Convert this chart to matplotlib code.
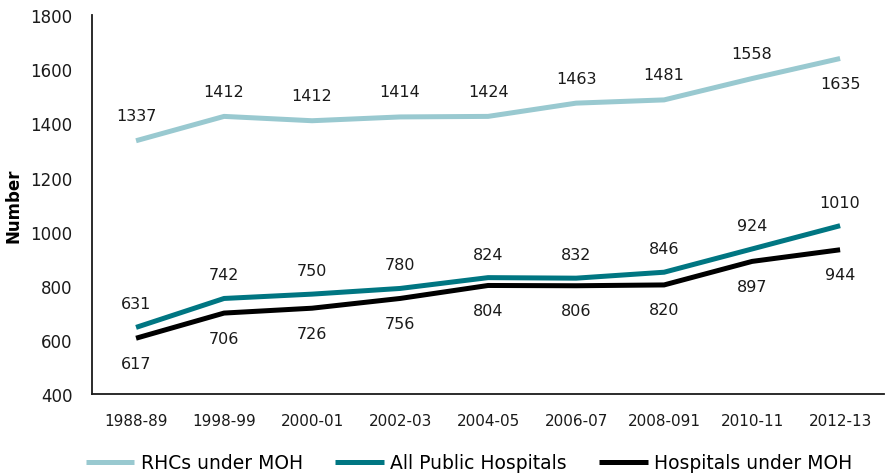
import matplotlib
matplotlib.use('Agg')
import matplotlib.pyplot as plt

plt.rcParams['font.family'] = ['DejaVu Sans']

years = ['1988-89', '1998-99', '2000-01', '2002-03', '2004-05',
         '2006-07', '2008-091', '2010-11', '2012-13']

# line positions
rhc = [1336, 1426, 1410, 1424, 1426, 1475, 1487, 1566, 1640]
public = [646, 753, 769, 790, 830, 828, 850, 936, 1022]
moh = [606, 699, 717, 753, 801, 800, 803, 890, 933]

# printed data labels
rhc_lbl = [1337, 1412, 1412, 1414, 1424, 1463, 1481, 1558, 1635]
public_lbl = [631, 742, 750, 780, 824, 832, 846, 924, 1010]
moh_lbl = [617, 706, 726, 756, 804, 806, 820, 897, 944]

c_rhc = '#99c9d0'
c_pub = '#007682'
c_moh = '#000000'

fig = plt.figure(figsize=(8.85, 4.77), dpi=100)
ax = fig.add_axes([0.104, 0.172, 0.895, 0.794])

x = list(range(len(years)))
ax.plot(x, rhc, color=c_rhc, lw=3.6, label='RHCs under MOH', solid_capstyle='butt')
ax.plot(x, public, color=c_pub, lw=3.6, label='All Public Hospitals', solid_capstyle='butt')
ax.plot(x, moh, color=c_moh, lw=3.6, label='Hospitals under MOH', solid_capstyle='butt')

fs = 11.5
for i in x:
    dy = -18 if i == len(x) - 1 else 18
    ax.annotate(str(rhc_lbl[i]), (i, rhc[i]), xytext=(0, dy), textcoords='offset points',
                ha='center', va='center', fontsize=fs, color='#1a1a1a')
    ax.annotate(str(public_lbl[i]), (i, public[i]), xytext=(0, 17), textcoords='offset points',
                ha='center', va='center', fontsize=fs, color='#1a1a1a')
    ax.annotate(str(moh_lbl[i]), (i, moh[i]), xytext=(0, -18), textcoords='offset points',
                ha='center', va='center', fontsize=fs, color='#1a1a1a')

ax.set_xlim(-0.5, len(years) - 0.5)
ax.set_ylim(400, 1800)
ax.set_yticks(range(400, 1801, 200))
ax.set_xticks(x)
ax.set_xticklabels(years)
ax.tick_params(axis='both', length=0, colors='#1a1a1a')
ax.tick_params(axis='y', pad=14, labelsize=12)
ax.tick_params(axis='x', pad=14, labelsize=11)
ax.set_ylabel('Number', fontsize=12, fontweight='bold', labelpad=6)

for s in ['top', 'right']:
    ax.spines[s].set_visible(False)
for s in ['left', 'bottom']:
    ax.spines[s].set_linewidth(1.3)
    ax.spines[s].set_color('#1a1a1a')

fig.legend(loc='lower center', bbox_to_anchor=(0.53, -0.028), ncol=3, frameon=False,
           fontsize=13.5, handlelength=2.6, columnspacing=1.7, handletextpad=0.35)

fig.savefig('out.png', dpi=100)
